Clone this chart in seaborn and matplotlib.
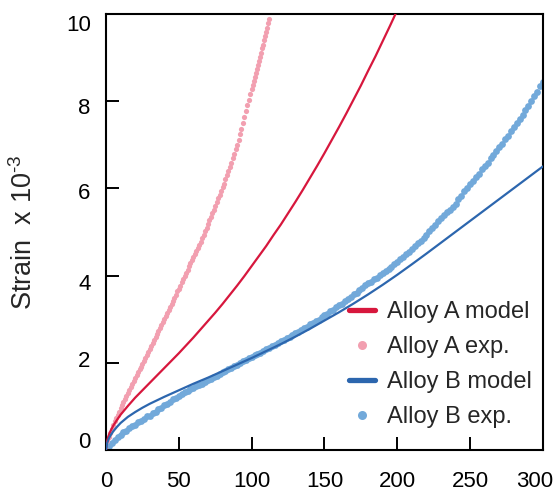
import numpy as np
import pandas as pd
import matplotlib
matplotlib.use("Agg")
import matplotlib.pyplot as plt
from matplotlib.lines import Line2D
from matplotlib.transforms import ScaledTranslation
import seaborn as sns

# --- data ---
# Alloy A, experiment (pink dots)
alloy_a_exp_t = np.concatenate([np.arange(0, 101, 1.0),
                                [100.7, 101.4, 102.1, 102.8, 103.5, 104.2, 104.9, 105.6, 106.3,
                                 107.0, 107.7, 108.4, 109.1, 109.8, 110.5, 111.2, 111.9]])
alloy_a_exp_strain = [
    0.00, 0.20, 0.31, 0.40, 0.49, 0.58, 0.66, 0.73, 0.81, 0.88,
    0.96, 1.03, 1.10, 1.17, 1.24, 1.31, 1.38, 1.44, 1.51, 1.58,
    1.65, 1.71, 1.78, 1.85, 1.91, 1.98, 2.05, 2.11, 2.18, 2.25,
    2.32, 2.38, 2.45, 2.52, 2.59, 2.65, 2.72, 2.79, 2.86, 2.93,
    3.00, 3.07, 3.14, 3.21, 3.28, 3.35, 3.42, 3.49, 3.56, 3.64,
    3.70, 3.77, 3.85, 3.92, 3.99, 4.06, 4.13, 4.21, 4.28, 4.35,
    4.42, 4.49, 4.56, 4.64, 4.71, 4.78, 4.86, 4.94, 5.02, 5.10,
    5.18, 5.27, 5.35, 5.43, 5.51, 5.60, 5.68, 5.77, 5.85, 5.94,
    6.03, 6.11, 6.21, 6.30, 6.39, 6.49, 6.59, 6.69, 6.79, 6.90,
    7.00, 7.12, 7.24, 7.37, 7.50, 7.63, 7.78, 7.91, 8.03, 8.16,
    8.28,
    8.37, 8.46, 8.55, 8.64, 8.73, 8.83, 8.92, 9.02, 9.11,
    9.21, 9.30, 9.40, 9.49, 9.59, 9.69, 9.79, 9.89,
]

# Alloy A, model (red line)
alloy_a_model_t = [0, 0.5, 1, 2, 3, 5, 7.5, 10, 15, 20, 25, 30, 35, 40, 45, 50, 55, 60, 65,
                   70, 75, 80, 85, 90, 95, 100, 105, 110, 115, 120, 125, 130, 135, 140,
                   145, 150, 155, 160, 165, 170, 175, 180, 185, 190, 195, 200]
alloy_a_model_strain = [0.00, 0.17, 0.24, 0.35, 0.43, 0.56, 0.69, 0.81, 1.01, 1.20, 1.37,
                        1.54, 1.71, 1.88, 2.05, 2.22, 2.40, 2.58, 2.77, 2.96, 3.15, 3.35,
                        3.56, 3.77, 3.99, 4.22, 4.45, 4.68, 4.93, 5.17, 5.43, 5.69, 5.96,
                        6.24, 6.52, 6.81, 7.11, 7.41, 7.72, 8.04, 8.36, 8.70, 9.03, 9.38,
                        9.73, 10.09]

# Alloy B, experiment (light blue dots)
alloy_b_exp_t = np.arange(0, 301, 2.0)
alloy_b_exp_strain = [
    0.00, 0.09, 0.15, 0.22, 0.30, 0.34, 0.41, 0.44, 0.50, 0.56,
    0.58, 0.64, 0.67, 0.71, 0.77, 0.79, 0.85, 0.88, 0.94, 0.97,
    1.03, 1.06, 1.11, 1.16, 1.19, 1.25, 1.28, 1.33, 1.35, 1.40,
    1.42, 1.46, 1.50, 1.52, 1.57, 1.60, 1.63, 1.68, 1.70, 1.75,
    1.78, 1.81, 1.86, 1.88, 1.93, 1.96, 1.99, 2.04, 2.06, 2.11,
    2.14, 2.17, 2.21, 2.23, 2.28, 2.31, 2.34, 2.39, 2.41, 2.46,
    2.49, 2.52, 2.57, 2.59, 2.64, 2.68, 2.71, 2.76, 2.79, 2.83,
    2.88, 2.91, 2.96, 2.99, 3.05, 3.09, 3.13, 3.18, 3.21, 3.28,
    3.32, 3.36, 3.42, 3.46, 3.52, 3.57, 3.61, 3.67, 3.71, 3.78,
    3.83, 3.86, 3.92, 3.95, 4.02, 4.06, 4.10, 4.16, 4.20, 4.27,
    4.31, 4.37, 4.43, 4.49, 4.54, 4.62, 4.67, 4.74, 4.79, 4.87,
    4.93, 5.02, 5.09, 5.17, 5.26, 5.33, 5.38, 5.46, 5.50, 5.58,
    5.65, 5.76, 5.82, 5.93, 6.00, 6.10, 6.17, 6.27, 6.34, 6.44,
    6.52, 6.59, 6.69, 6.77, 6.86, 6.95, 7.03, 7.13, 7.21, 7.31,
    7.40, 7.49, 7.60, 7.69, 7.80, 7.90, 8.00, 8.11, 8.22, 8.34,
    8.45,
]

# Alloy B, model (dark blue line)
alloy_b_model_t = [0, 0.5, 1, 2, 3, 5, 7.5, 10, 15, 20, 25, 30, 40, 50, 60, 70, 80, 90, 100,
                   110, 120, 130, 140, 150, 160, 170, 180, 190, 200, 210, 220, 230, 240,
                   250, 260, 270, 280, 290, 300]
alloy_b_model_strain = [0.00, 0.12, 0.18, 0.27, 0.33, 0.43, 0.53, 0.62, 0.76, 0.87, 0.97,
                        1.06, 1.22, 1.37, 1.52, 1.66, 1.81, 1.96, 2.11, 2.27, 2.43, 2.60,
                        2.78, 2.97, 3.16, 3.36, 3.57, 3.79, 4.02, 4.26, 4.505, 4.755, 5.005,
                        5.255, 5.505, 5.755, 6.005, 6.255, 6.505]

x_ticks = [0, 50, 100, 150, 200, 250, 300]
y_ticks = [0, 2, 4, 6, 8, 10]
# the tick labels in the original sit a little off their ticks (pixels)
y_label_nudge = [-10, -4, 6, 3, 5, 9]   # + = down
x_label_nudge = [0, 0, 0, 0, 0, 0, -8]  # + = right
labels = ["Alloy A model", "Alloy A exp.", "Alloy B model", "Alloy B exp."]

RED = "#d7173d"
PINK = "#f29fb0"
DARK_BLUE = "#2c66ae"
LIGHT_BLUE = "#72a9da"

sns.set_style("white")
plt.rcParams["font.family"] = ["Liberation Sans", "DejaVu Sans"]
plt.rcParams["mathtext.fontset"] = "custom"
plt.rcParams["mathtext.rm"] = "Liberation Sans"
plt.rcParams["mathtext.it"] = "Liberation Sans:italic"

df_a_exp = pd.DataFrame({"t": alloy_a_exp_t, "strain": alloy_a_exp_strain})
df_a_mod = pd.DataFrame({"t": alloy_a_model_t, "strain": alloy_a_model_strain})
df_b_exp = pd.DataFrame({"t": alloy_b_exp_t, "strain": alloy_b_exp_strain})
df_b_mod = pd.DataFrame({"t": alloy_b_model_t, "strain": alloy_b_model_strain})

fig = plt.figure(figsize=(5.58, 4.96), dpi=100)
ax = fig.add_axes([0.19, 0.0927, 0.783, 0.879])

sns.scatterplot(data=df_b_exp, x="t", y="strain", color=LIGHT_BLUE, s=24,
                linewidth=0, ax=ax, legend=False, zorder=2)
sns.scatterplot(data=df_a_exp, x="t", y="strain", color=PINK, s=14,
                linewidth=0, ax=ax, legend=False, zorder=2)
sns.lineplot(data=df_a_mod, x="t", y="strain", color=RED, lw=1.6, ax=ax,
             legend=False, sort=False, zorder=3)
sns.lineplot(data=df_b_mod, x="t", y="strain", color=DARK_BLUE, lw=1.6, ax=ax,
             legend=False, sort=False, zorder=3)

ax.set_xlim(0, 300)
ax.set_ylim(0, 10)
ax.set_xticks(x_ticks)
ax.set_yticks(y_ticks)
ax.set_xlabel("")
ax.set_ylabel("Strain  x 10$^{\u2010 3}$", fontsize=19.5)
ax.yaxis.set_label_coords(-0.155, 0.5)

for sp in ax.spines.values():
    sp.set_linewidth(1.5)
    sp.set_color("black")
ax.tick_params(direction="in", length=9.5, width=1.4, labelsize=16, colors="black",
               bottom=True, left=True, top=False, right=False)
ax.tick_params(axis="x", pad=15)
ax.tick_params(axis="y", pad=11)

for lab, dy in zip(ax.get_yticklabels(), y_label_nudge):
    lab.set_transform(lab.get_transform() + ScaledTranslation(0, -dy / 100, fig.dpi_scale_trans))
for lab, dx in zip(ax.get_xticklabels(), x_label_nudge):
    lab.set_transform(lab.get_transform() + ScaledTranslation(dx / 100, 0, fig.dpi_scale_trans))

handles = [
    Line2D([], [], color=RED, lw=3.8),
    Line2D([], [], color=PINK, marker="o", ls="none", markersize=6.5, markeredgewidth=0),
    Line2D([], [], color=DARK_BLUE, lw=3.8),
    Line2D([], [], color=LIGHT_BLUE, marker="o", ls="none", markersize=6.5, markeredgewidth=0),
]
ax.legend(handles, labels, loc="lower right", bbox_to_anchor=(0.975, 0.05),
          frameon=False, fontsize=17, handlelength=1.1, handletextpad=0.5,
          labelspacing=0.55, borderpad=0, borderaxespad=0)

fig.savefig("out.png", dpi=100)
